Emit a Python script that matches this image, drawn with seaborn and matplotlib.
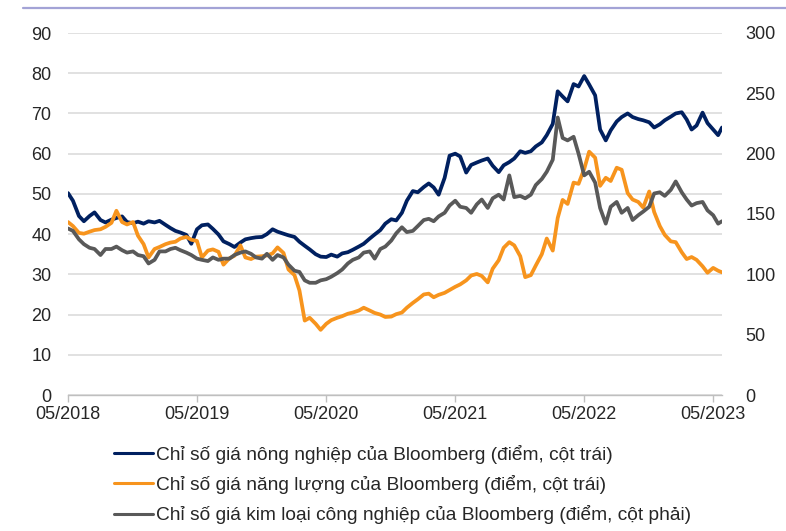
import numpy as np
import pandas as pd
import matplotlib
matplotlib.use("Agg")
import matplotlib.pyplot as plt
import matplotlib.dates as mdates
from matplotlib.lines import Line2D
import seaborn as sns

# semi-monthly readings, 05/2018 .. end 05/2023
dates = pd.date_range("2018-05-01", "2023-05-15", freq="SMS").append(pd.DatetimeIndex(["2023-05-26"]))

# Bloomberg agriculture index (left axis)
agri_vals = [
    50.2, 48.3, 44.5, 43.2, 44.5, 45.4, 43.5, 42.9, 43.6, 44.0,
    44.4, 43.0, 42.7, 43.1, 42.6, 43.2, 42.9, 43.3, 42.3, 41.5,
    40.8, 40.4, 39.8, 37.6, 41.2, 42.2, 42.4, 41.3, 39.9, 38.2,
    37.5, 36.8, 37.9, 38.7, 39.0, 39.2, 39.3, 40.0, 41.2, 40.6,
    40.1, 39.7, 39.3, 38.1, 37.1, 36.2, 35.0, 34.4, 34.3, 34.9,
    34.4, 35.2, 35.5, 36.1, 36.9, 37.6, 38.9, 39.9, 41.0, 42.6,
    43.7, 43.4, 45.3, 48.3, 50.7, 50.4, 51.7, 52.6, 51.6, 49.8,
    54.0, 59.5, 60.0, 59.3, 55.3, 57.2, 57.8, 58.3, 58.8, 57.0,
    55.4, 57.1, 57.9, 58.8, 60.6, 60.2, 60.6, 61.8, 62.8, 64.6,
    67.4, 75.5, 74.2, 73.0, 77.3, 76.7, 79.3, 77.2, 74.5, 66.0,
    63.3, 65.8, 68.0, 69.1, 70.0, 69.1, 68.6, 68.3, 67.8, 66.5,
    67.3, 68.3, 69.2, 70.0, 70.3, 68.5, 66.0, 67.0, 70.2, 67.6,
    66.0, 64.6, 66.5,
]

# Bloomberg energy index (left axis)
energy_vals = [
    43.0, 42.0, 40.3, 40.1, 40.6, 41.0, 41.2, 41.8, 42.8, 45.8,
    43.0, 42.4, 43.0, 39.6, 37.5, 34.2, 36.3, 36.8, 37.5, 37.9,
    38.1, 38.9, 39.3, 38.6, 38.3, 34.2, 35.9, 36.2, 35.6, 32.4,
    34.0, 34.6, 37.2, 34.2, 33.8, 34.4, 34.5, 34.7, 35.2, 36.7,
    35.3, 31.2, 29.8, 26.0, 18.5, 19.2, 17.7, 16.2, 17.7, 18.6,
    19.2, 19.6, 20.2, 20.5, 21.0, 21.7, 21.0, 20.4, 20.0, 19.4,
    19.5, 20.1, 20.5, 21.7, 22.9, 23.8, 25.0, 25.2, 24.3, 24.9,
    25.4, 26.1, 26.9, 27.5, 28.5, 29.7, 30.1, 29.6, 28.0, 31.4,
    33.5, 36.6, 38.0, 37.2, 34.5, 29.3, 29.8, 32.2, 35.0, 38.9,
    35.9, 44.0, 48.5, 47.5, 52.8, 52.5, 56.2, 60.5, 59.0, 52.0,
    54.0, 53.2, 56.5, 56.0, 50.2, 48.6, 48.0, 46.6, 50.6, 45.5,
    42.0, 39.8, 38.2, 38.0, 35.5, 33.8, 34.3, 33.6, 32.0, 30.4,
    31.6, 30.9, 30.5,
]

# Bloomberg industrial metals index (right axis)
metals_vals = [
    138, 136, 129, 125, 122, 121, 116, 121, 121, 123,
    120, 118, 119, 116, 115, 109, 112, 119, 119, 121,
    122, 120, 118, 116, 113, 112, 111, 114, 112, 113,
    113, 116, 118, 119, 117, 114, 113, 117, 112, 116,
    114, 108, 103, 102, 95, 93, 93, 95, 96, 98,
    101, 104, 109, 112, 114, 118, 119, 113, 121, 123,
    128, 134, 139, 135, 136, 140, 145, 146, 144, 148,
    151, 157, 161, 156, 155, 151, 158, 162, 155, 163,
    166, 162, 182, 164, 165, 163, 166, 174, 179, 185,
    195, 230, 213, 211, 214, 200, 182, 185, 176, 155,
    142, 156, 160, 151, 155, 145, 149, 152, 156, 167,
    168, 165, 170, 177, 168, 162, 157, 159, 160, 153,
    149, 142, 144,
]

labels = [
    "Chỉ số giá nông nghiệp của Bloomberg (điểm, cột trái)",
    "Chỉ số giá năng lượng của Bloomberg (điểm, cột trái)",
    "Chỉ số giá kim loại công nghiệp của Bloomberg (điểm, cột phải)",
]
colors = ["#002060", "#F7941D", "#595959"]

df = pd.DataFrame({"date": dates, "agri": agri_vals, "energy": energy_vals, "metals": metals_vals})

sns.set_theme(style="white")
plt.rcParams["font.family"] = ["Liberation Sans", "DejaVu Sans"]
text_col = "#262626"
fs = 13

fig = plt.figure(figsize=(7.86, 5.31), dpi=100)
ax = fig.add_axes([68 / 786, 1 - 395 / 531, (722 - 68) / 786, (395 - 33) / 531])
ax2 = ax.twinx()

lw = 2.7
sns.lineplot(data=df, x="date", y="agri", ax=ax, color=colors[0], linewidth=lw)
sns.lineplot(data=df, x="date", y="energy", ax=ax, color=colors[1], linewidth=lw)
sns.lineplot(data=df, x="date", y="metals", ax=ax2, color=colors[2], linewidth=lw)

ax.set_ylim(0, 90)
ax.set_yticks(np.arange(0, 91, 10))
ax2.set_ylim(0, 300)
ax2.set_yticks(np.arange(0, 301, 50))
ax.set_xlim(pd.Timestamp("2018-05-01"), pd.Timestamp("2023-05-26"))
ax.xaxis.set_major_locator(mdates.MonthLocator(bymonth=5))
ax.xaxis.set_major_formatter(mdates.DateFormatter("%m/%Y"))

ax.grid(axis="y", color="#d9d9d9", linewidth=1.1)
ax.grid(axis="x", visible=False)
ax2.grid(False)
for a in (ax, ax2):
    for s in ["top", "left", "right", "bottom"]:
        a.spines[s].set_visible(False)
    a.set_xlabel("")
    a.set_ylabel("")
ax.spines["bottom"].set_visible(True)
ax.spines["bottom"].set_color("#bfbfbf")
ax.spines["bottom"].set_linewidth(1.0)
ax.set_axisbelow(True)

ax.tick_params(axis="y", length=0, pad=12, labelsize=fs, labelcolor=text_col)
ax2.tick_params(axis="y", length=0, pad=17, labelsize=fs, labelcolor=text_col)
ax.tick_params(axis="x", length=5, width=1, color="#bfbfbf", direction="out",
               pad=3, labelsize=fs, labelcolor=text_col, bottom=True)

# thin rule at the very top of the figure
fig.add_artist(Line2D([23 / 786, 1.0], [1 - 8 / 531, 1 - 8 / 531], color="#a3a3d6", linewidth=1.6))

handles = [Line2D([], [], color=c, linewidth=2.2) for c in colors]
fig.legend(handles, labels, loc="upper left", bbox_to_anchor=(114 / 786, 1 - 445 / 531),
           frameon=False, fontsize=13.8, handlelength=2.05, handletextpad=0.12,
           labelspacing=0.58, borderpad=0, borderaxespad=0, labelcolor=text_col)

fig.savefig("out.png", dpi=100)
